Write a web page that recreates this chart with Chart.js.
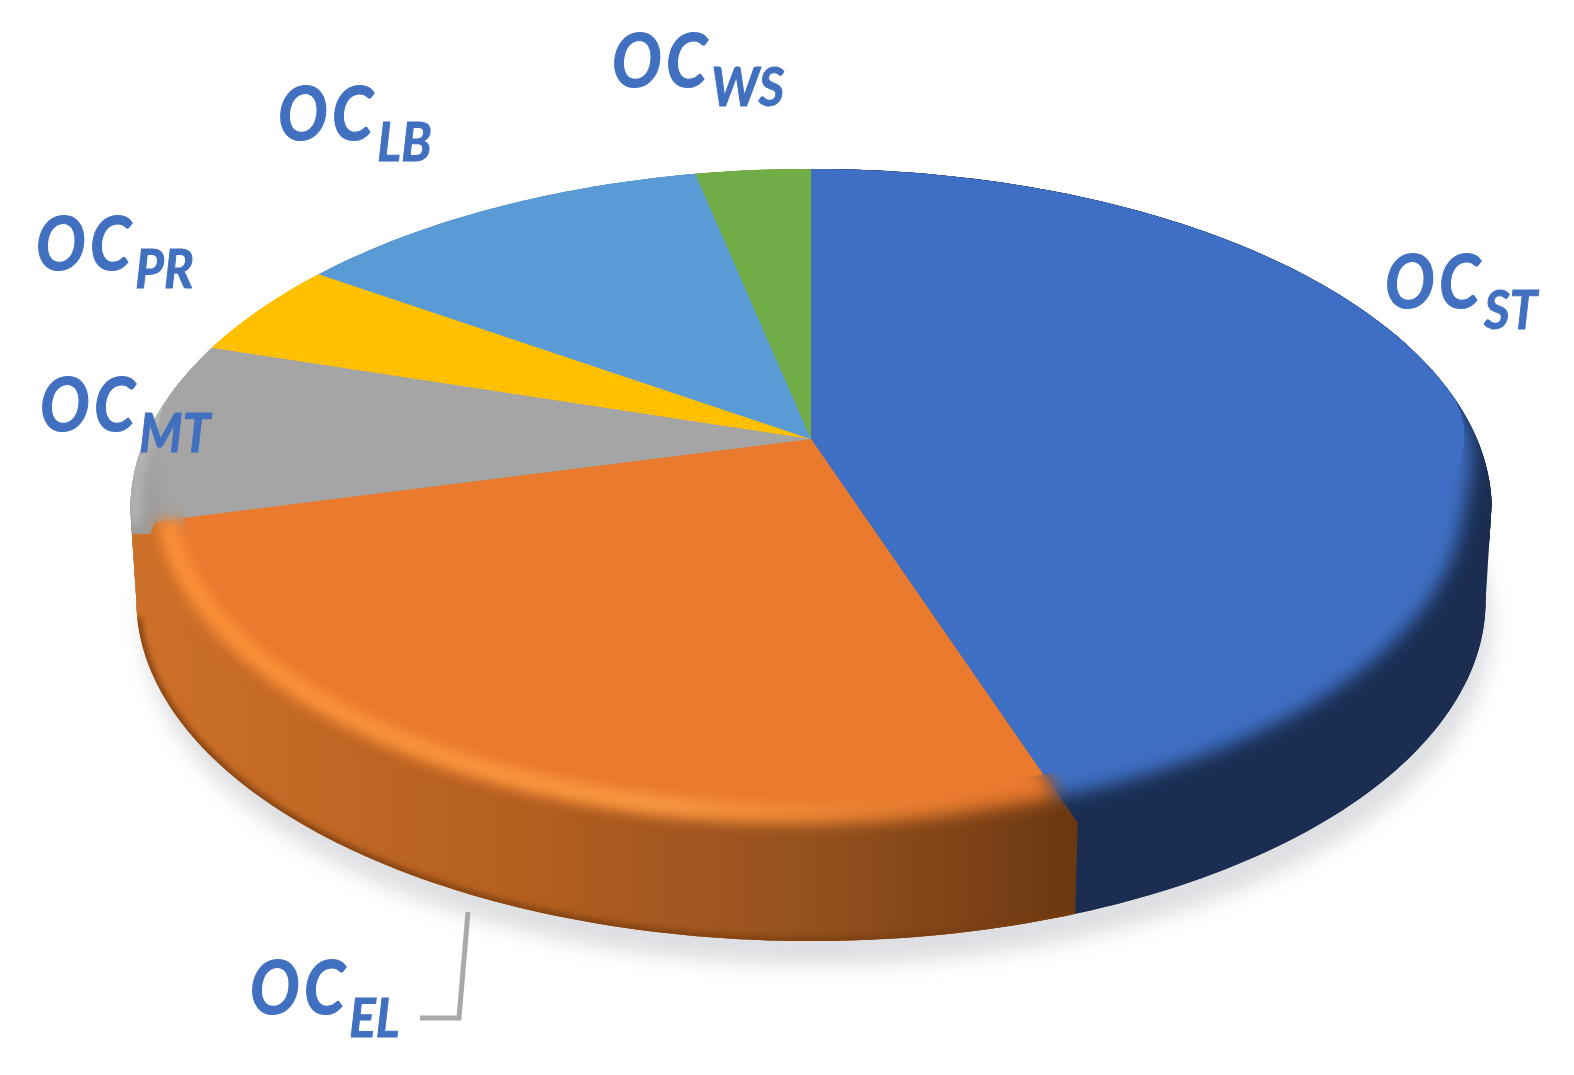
<!DOCTYPE html>
<html>
<head>
<meta charset="utf-8">
<title>Operating cost shares</title>
<script src="https://cdn.jsdelivr.net/npm/chart.js@4"></script>
<style>
  html, body { margin: 0; padding: 0; background: #fff; }
  canvas { display: block; filter: blur(0.5px); }
</style>
</head>
<body>
<canvas id="pie" width="1574" height="1075"></canvas>
<script>
const categories = ['OCST', 'OCEL', 'OCMT', 'OCPR', 'OCLB', 'OCWS'];
const labelSubs = ['ST', 'EL', 'MT', 'PR', 'LB', 'WS'];
const shares = [44.8, 26.2, 8.8, 4.75, 12.1, 3.35];
const faceColors = ['#3f6fc4', '#ea7a2e', '#a5a5a5', '#ffc000', '#5b9bd5', '#70ad47'];

// [x of "OC", baseline of "OC", baseline of the subscript]
const labelPlaces = [
  [1385, 308, 329],
  [250, 1014, 1037],
  [40, 431, 452],
  [36, 270, 288],
  [278, 140, 161],
  [612, 87, 106]
];

// projection of the flat disc, with the far side shrunk like the original 3D view
const TOP = { cx: 811, ay: 439, rx: 666, ry: 326, k: 0.207 };
const BASE = { cx: 811, ay: 530, rx: 660, ry: 326, k: 0.207 };
const STEP = Math.PI / 180;
const WIDEST = Math.asin(TOP.k);

function project(p, a) {
  const u = Math.cos(a), v = Math.sin(a), w = 1 - p.k * v;
  return [p.cx + p.rx * u / w, p.ay + p.ry * v / w];
}

// rim point pulled back along its radius on the near side, that is where the bevel sits
function faceRim(a, amount) {
  const v = Math.sin(a);
  const pt = project(TOP, a);
  let f = Math.min(1, Math.max(0, (v + 0.15) / 0.4));
  f = f * f * (3 - 2 * f) * amount;
  const s = 1 - f * (0.06 + 0.07 * Math.max(v, 0));
  return [TOP.cx + (pt[0] - TOP.cx) * s, TOP.ay + (pt[1] - TOP.ay) * s];
}

function slicePath(ctx, start, end, amount) {
  ctx.beginPath();
  ctx.moveTo(TOP.cx, TOP.ay);
  for (let a = start; a < end; a += STEP) ctx.lineTo(...faceRim(a, amount));
  ctx.lineTo(...faceRim(end, amount));
  ctx.closePath();
}

function silhouette(ctx) {
  ctx.beginPath();
  for (let a = Math.PI - WIDEST; a <= 2 * Math.PI + WIDEST; a += STEP) ctx.lineTo(...project(TOP, a));
  for (let a = WIDEST; a <= Math.PI - WIDEST; a += STEP) ctx.lineTo(...project(BASE, a));
  ctx.closePath();
}

function bandPath(ctx, start, end) {
  ctx.beginPath();
  for (let a = start; a < end; a += STEP) ctx.lineTo(...project(TOP, a));
  ctx.lineTo(...project(TOP, end));
  for (let a = end; a > start; a -= STEP) ctx.lineTo(...project(BASE, a));
  ctx.lineTo(...project(BASE, start));
  ctx.closePath();
}

function wallFill(ctx, i) {
  if (i === 0) return '#1b2e52';
  if (i === 2) return '#9a9a9a';
  if (i !== 1) return faceColors[i];
  const g = ctx.createLinearGradient(150, 0, 1075, 0);
  g.addColorStop(0, '#cc7029');
  g.addColorStop(0.4, '#b45f20');
  g.addColorStop(0.7, '#96521f');
  g.addColorStop(0.88, '#7e4317');
  g.addColorStop(1, '#6a3810');
  return g;
}

const piePlugin = {
  id: 'tiltedPie',
  beforeDatasetsDraw(chart) {
    const ctx = chart.ctx;
    const arcs = chart.getDatasetMeta(0).data;

    // soft shadow on the ground
    ctx.save();
    ctx.filter = 'blur(10px)';
    ctx.fillStyle = '#dedfe2';
    ctx.beginPath();
    for (let d = 0; d < 360; d += 2) {
      const pt = project(BASE, d * STEP);
      ctx.lineTo(pt[0] + 6, pt[1] + 24);
    }
    ctx.closePath();
    ctx.fill();
    ctx.restore();

    ctx.save();
    silhouette(ctx);
    ctx.clip();

    // side wall, also laid under the bevel
    arcs.forEach((arc, i) => {
      const paint = wallFill(ctx, i);
      ctx.fillStyle = paint;
      ctx.strokeStyle = paint;
      ctx.lineWidth = 1.5;
      slicePath(ctx, arc.startAngle, arc.endAngle, 0);
      ctx.fill();
      ctx.stroke();
      bandPath(ctx, arc.startAngle, arc.endAngle);
      ctx.fill();
      ctx.stroke();
    });

    // the two ends of the wall, where it turns out of sight
    ctx.fillStyle = wallFill(ctx, 1);
    ctx.fillRect(100, 534, 200, 100);
    ctx.fillStyle = wallFill(ctx, 0);
    ctx.fillRect(1300, 480, 220, 200);

    // dark line along the bottom of the orange wall
    ctx.save();
    ctx.filter = 'blur(3px)';
    ctx.strokeStyle = '#7a3d10';
    ctx.lineWidth = 7;
    ctx.beginPath();
    for (let a = arcs[1].startAngle; a < arcs[1].endAngle; a += STEP) ctx.lineTo(...project(BASE, a));
    ctx.stroke();
    ctx.restore();

    // blurred face, gives the bevel between the face and the wall
    ctx.save();
    ctx.filter = 'blur(9px)';
    arcs.forEach((arc, i) => {
      slicePath(ctx, arc.startAngle, arc.endAngle, 0.55);
      ctx.fillStyle = faceColors[i];
      ctx.fill();
    });
    ctx.restore();

    // highlight on the rounded edge
    ctx.save();
    ctx.filter = 'blur(7px)';
    const glow = ctx.createLinearGradient(140, 0, 1000, 0);
    glow.addColorStop(0, 'rgba(255,146,56,0.95)');
    glow.addColorStop(0.6, 'rgba(255,158,70,0.95)');
    glow.addColorStop(1, 'rgba(255,150,60,0)');
    ctx.strokeStyle = glow;
    ctx.lineWidth = 17;
    ctx.beginPath();
    for (let a = arcs[1].startAngle; a < arcs[1].endAngle; a += STEP) ctx.lineTo(...faceRim(a, 0.68));
    ctx.stroke();
    ctx.strokeStyle = 'rgba(205,205,205,0.8)';
    ctx.lineWidth = 10;
    ctx.beginPath();
    for (let a = arcs[2].startAngle; a < arcs[2].endAngle; a += STEP) ctx.lineTo(...faceRim(a, 0.1));
    ctx.stroke();
    ctx.restore();

    // sharp flat face
    arcs.forEach((arc, i) => {
      slicePath(ctx, arc.startAngle, arc.endAngle, 1);
      ctx.fillStyle = faceColors[i];
      ctx.fill();
    });
    ctx.restore();

    return false;
  },
  afterDraw(chart) {
    const ctx = chart.ctx;

    // leader line of the OC EL label
    ctx.save();
    ctx.strokeStyle = '#a9a9a9';
    ctx.lineWidth = 5;
    ctx.beginPath();
    ctx.moveTo(468, 912);
    ctx.lineTo(459, 1018);
    ctx.lineTo(420, 1018);
    ctx.stroke();
    ctx.restore();

    ctx.save();
    ctx.fillStyle = '#4270c0';
    ctx.strokeStyle = '#4270c0';
    ctx.textBaseline = 'alphabetic';
    labelPlaces.forEach((place, i) => {
      ctx.font = 'italic bold 74px Lato, "Open Sans", sans-serif';
      ctx.letterSpacing = '5px';
      const w = ctx.measureText('OC').width * 0.89;
      ctx.save();
      ctx.translate(place[0], place[1]);
      ctx.scale(0.89, 1);
      ctx.lineWidth = 1.2;
      ctx.fillText('OC', 0, 0);
      ctx.strokeText('OC', 0, 0);
      ctx.restore();
      ctx.font = 'italic bold 53px Lato, "Open Sans", sans-serif';
      ctx.letterSpacing = '0px';
      ctx.save();
      ctx.translate(place[0] + w, place[2]);
      ctx.scale(0.93, 1);
      ctx.lineWidth = 1;
      ctx.fillText(labelSubs[i], 0, 0);
      ctx.strokeText(labelSubs[i], 0, 0);
      ctx.restore();
    });
    ctx.restore();
  }
};

new Chart(document.getElementById('pie'), {
  type: 'pie',
  data: {
    labels: categories,
    datasets: [{ data: shares, backgroundColor: faceColors, borderWidth: 0 }]
  },
  options: {
    responsive: false,
    animation: false,
    plugins: { legend: { display: false }, tooltip: { enabled: false } }
  },
  plugins: [piePlugin]
});
</script>
</body>
</html>
